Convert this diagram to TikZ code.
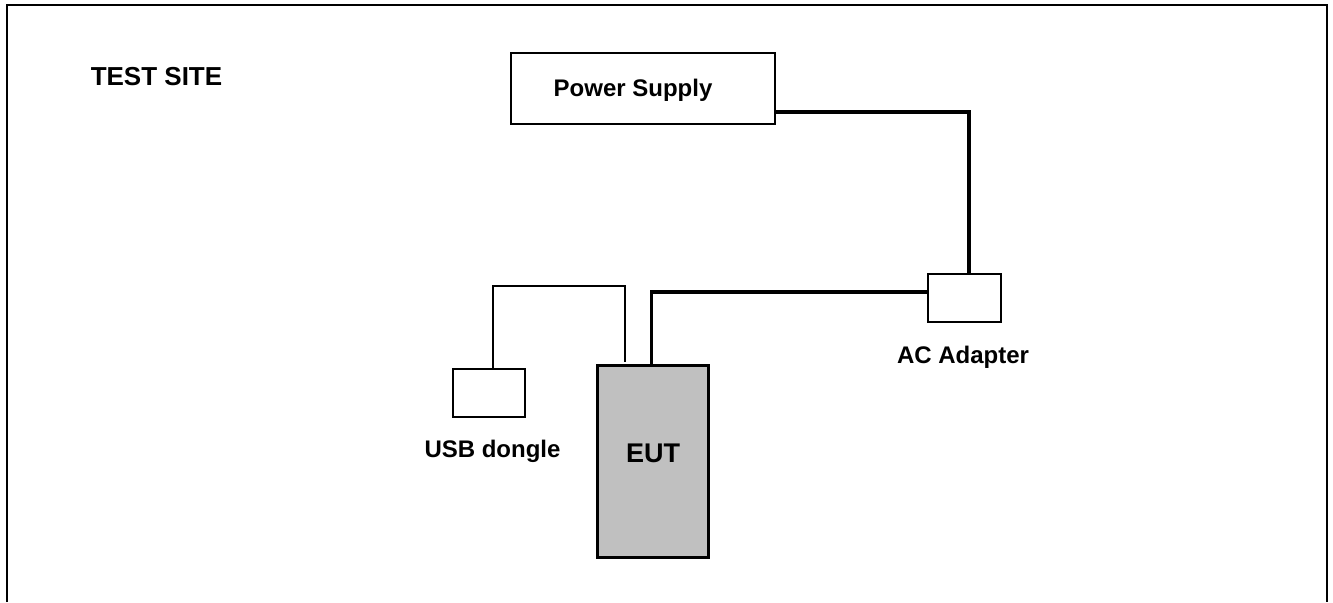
\documentclass[tikz,border=0pt]{standalone}
\usepackage{fontspec}
\setmainfont{Liberation Sans}
\begin{document}
\begin{tikzpicture}[x=0.5pt,y=-0.5pt,
  box/.style={draw=black,line width=0.9pt,fill=white,inner sep=0pt},
  eutbox/.style={draw=black,line width=1.4pt,fill={rgb,255:red,192;green,192;blue,192},inner sep=0pt},
  lbl/.style={font=\bfseries\fontsize{12pt}{14pt}\selectfont,inner sep=0pt},
  thick cable/.style={line width=1.6pt},
  thin cable/.style={line width=0.9pt},
  frame/.style={line width=1.1pt}]
\useasboundingbox (0,0) rectangle (1333,602);
% open frame
\draw[frame] (7,602) -- (7,5) -- (1327,5) -- (1327,602);
\node[lbl,font=\bfseries\fontsize{13pt}{15pt}\selectfont] (site) at (156.5,77) {TEST SITE};
% boxes
\node[box,minimum width=132pt,minimum height=35.5pt] (ps) at (643,88.7) {};
\node[lbl] (pslabel) at (633,90) {Power Supply};
\node[box,minimum width=36.5pt,minimum height=24pt] (ac) at (964.2,298) {};
\node[lbl] (aclabel) at (963,357) {AC Adapter};
\node[eutbox,minimum width=55.7pt,minimum height=96.2pt] (eut) at (653,461.5) {};
\node[lbl,font=\bfseries\fontsize{13.5pt}{16pt}\selectfont] (eutlabel) at (653,453) {EUT};
\node[box,minimum width=36.3pt,minimum height=24.2pt] (usb) at (489,392.9) {};
\node[lbl] (usblabel) at (492.5,451.7) {USB dongle};
% connectors
\coordinate (p1) at (969,112);
\draw[thick cable] (ps.east |- p1) -- (p1) -- (p1 |- ac.north);
\coordinate (q1) at (651.7,292);
\draw[thick cable] (eut.north -| q1) -- (q1) -- (q1 -| ac.west);
\coordinate (u1) at (493.3,286);
\coordinate (u2) at (625,286);
\coordinate (u3) at (625,362);
\draw[thin cable] (usb.north -| u1) -- (u1) -- (u2) -- (u3);
\end{tikzpicture}
\end{document}
